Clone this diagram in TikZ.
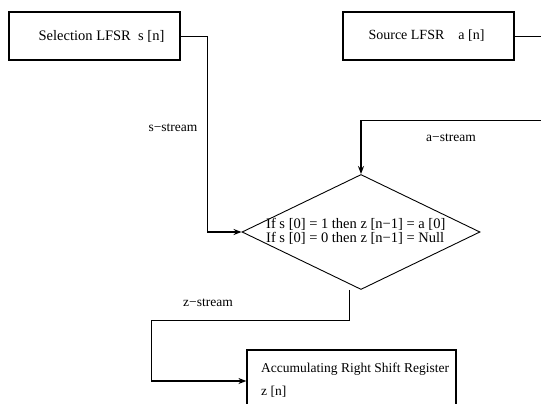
\documentclass[tikz,border=0pt]{standalone}
\usepackage{fontspec}
\setmainfont{Liberation Serif}
\usetikzlibrary{shapes.geometric,arrows.meta}

\begin{document}
\begin{tikzpicture}[x=1pt,y=-1pt,
  font=\fontsize{13.5}{14}\selectfont,
  big/.style={font=\fontsize{14.5}{14}\selectfont},
  box/.style={draw, line width=1.2pt, inner sep=0pt},
  wire/.style={line width=0.9pt},
  feed/.style={line width=1.6pt, -{Stealth[length=8pt,width=6pt]}},
  lbl/.style={inner sep=0pt}]
\useasboundingbox (0,0) rectangle (541,404);
\clip (0,0) rectangle (541,404);

% LFSR blocks
\node[box, minimum width=171pt, minimum height=48pt] (sel) at (94.5,36) {};
\node[lbl, big] (seltext) at (101.5,36) {Selection LFSR\ \ s [n]};
\node[box, minimum width=171pt, minimum height=48pt] (src) at (428.5,36) {};
\node[lbl, font=\fontsize{14}{14}\selectfont] (srctext) at (426.5,36) {Source LFSR\quad a [n]};

% decision
\node[draw, diamond, line width=0.9pt, inner sep=0pt, aspect=2.07,
      minimum width=238pt, minimum height=115pt] (dia) at (361,232) {};
\node[lbl, big, anchor=west, align=left] (rule) at (266,231)
  {If s [0] = 1 then z [n−1] = a [0]\\If s [0] = 0 then z [n−1] = Null};

% output register (runs past the lower edge)
\node[box, minimum width=209pt, minimum height=70pt] (acc) at (351.5,385) {};
\node[lbl, anchor=west] (acctext) at (261,369) {Accumulating Right Shift Register};
\node[lbl, anchor=west] (acczn) at (261,392) {z [n]};

% bend points and off-edge ends
\coordinate (srcend) at (550,36);
\coordinate (sturn) at (207,232);
\coordinate (ain) at (550,120);
\coordinate (aturn) at (361,120);
\coordinate (zturn1) at (349,320);
\coordinate (zturn2) at (151,320);
\coordinate (zturn3) at (151,381);

% s-stream
\draw[wire] (sel.east) -| (sturn);
\draw[feed] (sturn) -- (dia.west);
% a-stream
\draw[wire] (src.east) -- (srcend);
\draw[wire] (ain) -- (aturn);
\draw[feed] (aturn) -- (dia.north);
% z-stream
\draw[wire] (dia.south -| zturn1) -- (zturn1) -- (zturn2) -- (zturn3);
\draw[feed] (zturn3) -- (zturn3 -| acc.west);

% stream labels
\node[lbl] (sstream) at (173,128) {s−stream};
\node[lbl] (astream) at (451,138) {a−stream};
\node[lbl] (zstream) at (208,303) {z−stream};
\end{tikzpicture}
\end{document}
